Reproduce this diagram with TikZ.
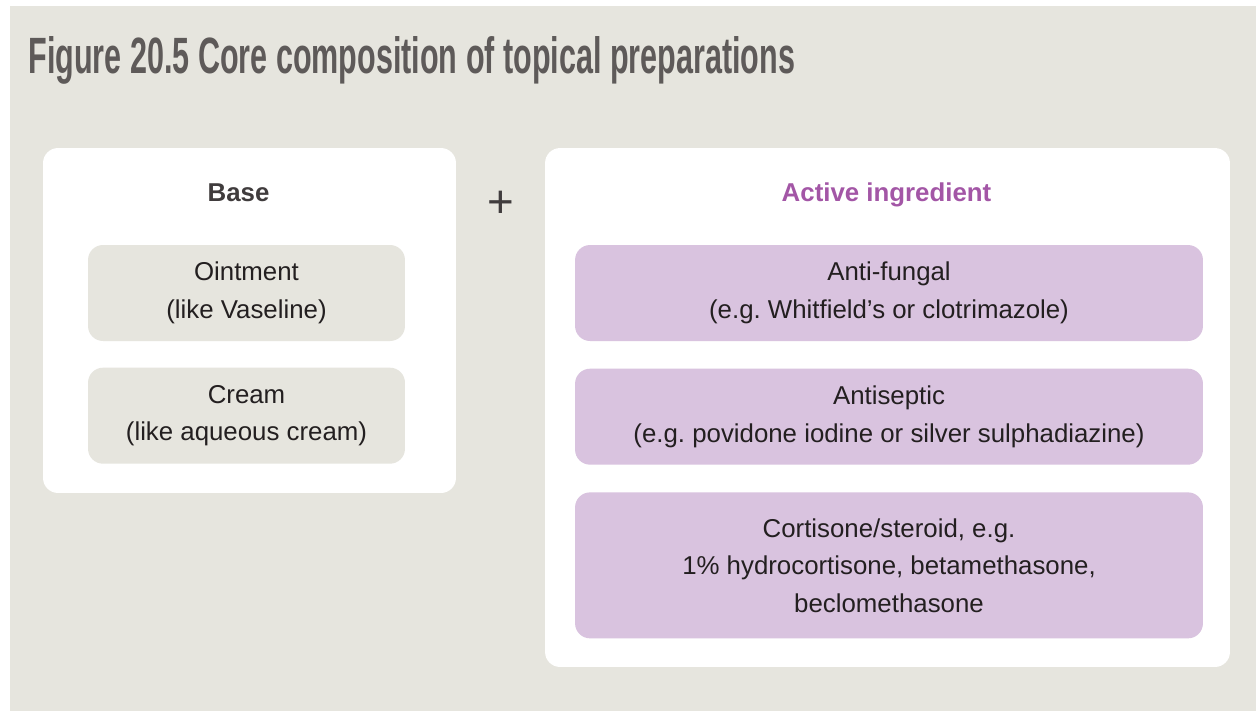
\documentclass[tikz,border=0pt]{standalone}
\usepackage{graphicx}
\usepackage{fontspec}
\setmainfont{Liberation Sans}
\usepackage{tikz}
\usetikzlibrary{positioning}
\definecolor{figBeige}{HTML}{E6E5DE}
\definecolor{figTitle}{HTML}{5E5A59}
\definecolor{figText}{HTML}{231F20}
\definecolor{figHead}{HTML}{403C3D}
\definecolor{figPurple}{HTML}{A356A6}
\definecolor{figLilac}{HTML}{D9C3DF}
\newcommand{\bodyfont}{\fontsize{14.7}{21.3}\selectfont}
\frenchspacing

\tikzset{
  panel/.style={fill=white, rounded corners=0.3cm, inner sep=0pt},
  basebox/.style={fill=figBeige, rounded corners=0.3cm, inner sep=0pt,
    minimum width=6.34cm, minimum height=1.92cm, align=center,
    text=figText, font=\bodyfont},
  activebox/.style={fill=figLilac, rounded corners=0.3cm, inner sep=0pt,
    minimum width=12.56cm, minimum height=1.92cm, align=center,
    text=figText, font=\bodyfont},
  heading/.style={font=\bodyfont\bfseries, inner sep=0pt, anchor=base}
}

\begin{document}
\begin{tikzpicture}[x=0.02cm, y=-0.02cm]

    % === Page and background ===
    \useasboundingbox (0,0) rectangle (1256,711);
    \fill[white] (0,0) rectangle (1256,711);
    \fill[figBeige] (10,6) rectangle (1256,711);

    % === Title ===
    \node[anchor=base west, inner sep=0pt, text=figTitle] (title) at (28,73)
      {\resizebox{15.34cm}{0.74cm}{\bfseries Figure 20.5 Core composition of topical preparations}};

    % === Base panel (left) ===
    \node[panel, minimum width=8.26cm, minimum height=6.9cm] (basepanel) at (249.5,320.5) {};
    \node[heading, text=figHead] (basehead) at (238.5,201) {Base};
    \node[basebox] (ointment) at (246.5,293) {Ointment\\(like Vaseline)};
    \node[basebox, below=0.52cm of ointment] (cream) {Cream\\(like aqueous cream)};

    % === Plus sign ===
    \node[inner sep=0pt, text=figHead, font=\fontsize{26}{26}\selectfont] (plus) at (501,204) {+};

    % === Active ingredient panel (right) ===
    \node[panel, minimum width=13.7cm, minimum height=10.38cm] (activepanel) at (887.5,407.5) {};
    \node[heading, text=figPurple] (activehead) at (886.5,201) {Active ingredient};
    \node[activebox] (antifungal) at (889,293) {Anti-fungal\\(e.g. Whitfield’s or clotrimazole)};
    \node[activebox, below=0.54cm of antifungal] (antiseptic)
      {Antiseptic\\(e.g. povidone iodine or silver sulphadiazine)};
    \node[activebox, minimum height=2.92cm, below=0.54cm of antiseptic] (steroid)
      {Cortisone/steroid, e.g.\\1\% hydrocortisone, betamethasone,\\beclomethasone};
\end{tikzpicture}
\end{document}
